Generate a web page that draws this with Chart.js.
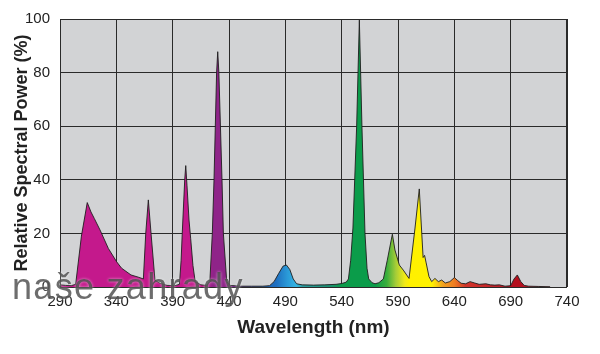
<!DOCTYPE html>
<html>
<head>
<meta charset="utf-8">
<script src="https://cdn.jsdelivr.net/npm/chart.js@4"></script>
<style>
  html, body { margin: 0; padding: 0; background: #fff; }
  #wrap { width: 600px; height: 354px; }
</style>
</head>
<body>
<div id="wrap"><canvas id="spd" width="600" height="354"></canvas></div>
<script>
// Spectral power distribution
const wavelengths = [
  290, 295, 300, 303.9, 309, 314.2, 317.5, 320.4, 325.5, 332.9, 340.3, 344.7, 353, 360, 364,
  366.1, 368.4, 370.8, 374.3, 378.8, 385, 392, 396, 397.5, 398.5, 400.7, 401.6, 402.7, 404.5,
  406, 408, 410, 415, 420, 423, 425.2, 426.7, 429, 430, 431, 433.8, 435, 438, 441, 450, 460,
  470, 476, 480, 484, 488, 491, 494, 497, 500, 505, 515, 525, 535, 540, 544, 546, 548, 550,
  553.3, 555.7, 558, 560.7, 562.5, 564, 567, 569.6, 573, 577, 580.5, 585, 587.3, 591.2, 594.7,
  599.8, 605.1, 608.9, 612.3, 613.6, 615, 617.5, 619.9, 622.8, 625.8, 628.8, 632, 636, 640,
  643, 646, 650, 654, 658, 662, 668, 672, 676, 680, 685, 690, 693, 695.9, 699, 702, 706, 715, 725
];
const power = [
  0.8, 0.6, 0.5, 1, 19, 31.5, 28, 25.6, 21.3, 14.4, 9.4, 7, 4.5, 3.6, 3,
  20, 32.5, 20, 2.5, 1.4, 0.6, 0.5, 1, 10, 20, 40, 45.3, 38, 25,
  18, 8, 2, 0.8, 0.6, 2, 20, 40, 80, 87.8, 80, 40, 20, 2, 0.6, 0.3, 0.3,
  0.3, 0.5, 2, 5, 7.8, 8.2, 6.5, 3, 1.2, 0.8, 0.7, 0.8, 1.0, 1.3, 1.8, 3, 10, 22,
  60, 99.6, 60, 20, 7, 3, 1.6, 1.2, 1.6, 3, 10, 19.7, 13.8, 8.2, 6.3,
  3.2, 22, 36.6, 11, 11.8, 9, 3.9, 2, 3.2, 2, 2.6, 1.5, 2, 3.5,
  2.4, 1.4, 1.2, 2, 1.5, 1, 1.2, 0.8, 0.7, 0.8, 0.3, 0.5, 3, 4.5, 2, 0.6, 0.3, 0.2, 0.1
];
const xTicks = [290, 340, 390, 440, 490, 540, 590, 640, 690, 740];
const yTicks = [0, 20, 40, 60, 80, 100];

// colour of the fill along the wavelength axis
const colourNm = [290, 418, 426, 440, 470, 482, 492, 500, 505, 530, 540, 570, 580, 588, 596, 600, 620, 630, 640, 650, 680, 690, 740];
const colourHex = ['#c4198c', '#c4198c', '#8f2489', '#8f2489', '#1d5fb0', '#1f6fc0', '#2a9ad8', '#35b5e2', '#2a9ca0', '#1a9070',
  '#0b9c4a', '#0b9c4a', '#3aae3c', '#a5cc38', '#f1ea18', '#fff000', '#fff200', '#f0a020', '#ee7d22', '#d2342a', '#c0202a', '#b4101e', '#b4101e'];

function spectrumFill(ctx){
  const chart = ctx.chart;
  const area = chart.chartArea;
  if (!area) return '#c4198c';
  const x = chart.scales.x;
  const lo = xTicks[0], hi = xTicks[xTicks.length - 1];
  const g = chart.ctx.createLinearGradient(x.getPixelForValue(lo), 0, x.getPixelForValue(hi), 0);
  colourNm.forEach((nm, i) => g.addColorStop((nm - lo) / (hi - lo), colourHex[i]));
  return g;
}

const plotBg = {
  id: 'plotBg',
  beforeDraw(chart){
    const { ctx, chartArea: a } = chart;
    ctx.save();
    ctx.fillStyle = '#d2d3d5';
    ctx.fillRect(a.left, a.top, a.right - a.left, a.bottom - a.top);
    ctx.restore();
  },
  afterDatasetsDraw(chart){
    const { ctx, chartArea: a } = chart;
    ctx.save();
    ctx.strokeStyle = '#2a2a2a';
    ctx.lineWidth = 1;
    ctx.strokeRect(a.left + 0.5, a.top + 0.5, a.right - a.left - 1, a.bottom - a.top);
    ctx.restore();
  }
};

// site watermark over the bottom left corner
const watermark = {
  id: 'watermark',
  afterDraw(chart){
    const ctx = chart.ctx;
    ctx.save();
    ctx.font = '36px "Liberation Sans", Arial, sans-serif';
    ctx.letterSpacing = '1.3px';
    ctx.textBaseline = 'alphabetic';
    ctx.shadowColor = 'rgba(255,255,255,0.7)';
    ctx.shadowBlur = 3;
    ctx.fillStyle = 'rgba(72,72,72,0.8)';
    ctx.fillText('naše zahrady', 12, 299);
    ctx.restore();
  }
};

const tickFont = { family: '"Liberation Sans", Arial, sans-serif', size: 15 };

new Chart(document.getElementById('spd').getContext('2d'), {
  type: 'line',
  data: {
    datasets: [{
      data: wavelengths.map((w, i) => ({ x: w, y: power[i] })),
      fill: 'origin',
      backgroundColor: spectrumFill,
      borderColor: '#1e1e1e',
      borderWidth: 0.9,
      pointRadius: 0,
      tension: 0
    }]
  },
  options: {
    responsive: false,
    animation: false,
    events: [],
    layout: { padding: { top: 19, right: 33, left: 0, bottom: 0 } },
    plugins: { legend: { display: false }, tooltip: { enabled: false } },
    scales: {
      x: {
        type: 'linear',
        min: 290, max: 740,
        afterBuildTicks: s => { s.ticks = xTicks.map(v => ({ value: v })); },
        afterFit: s => { s.height = 67; },
        grid: { color: '#2a2a2a', lineWidth: 1, drawTicks: false },
        border: { display: false },
        ticks: { font: tickFont, color: '#222', padding: 6, maxRotation: 0 },
        title: {
          display: true, text: 'Wavelength (nm)', color: '#222',
          font: { family: '"Liberation Sans", Arial, sans-serif', size: 19, weight: 'bold' },
          padding: { top: 0, bottom: 15 }
        }
      },
      y: {
        min: 0, max: 100,
        afterBuildTicks: s => { s.ticks = yTicks.map(v => ({ value: v })); },
        afterFit: s => { s.width = 60; },
        grid: { color: '#2a2a2a', lineWidth: 1, drawTicks: false },
        border: { display: false },
        ticks: { font: tickFont, color: '#222', padding: 10 },
        title: {
          display: true, text: 'Relative Spectral Power (%)', color: '#222',
          font: { family: '"Liberation Sans", Arial, sans-serif', size: 18, weight: 'bold' },
          padding: { top: 11, bottom: 0 }
        }
      }
    }
  },
  plugins: [plotBg, watermark]
});
</script>
</body>
</html>
